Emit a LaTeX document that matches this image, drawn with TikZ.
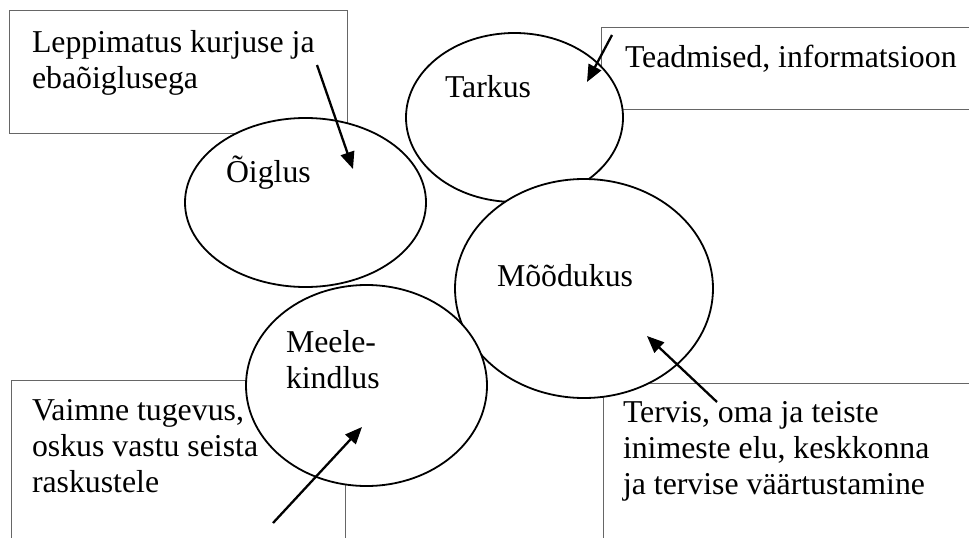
\documentclass[tikz,border=0pt]{standalone}
\usepackage{fontspec}
\setmainfont{Liberation Serif}
\usetikzlibrary{shapes.geometric,arrows.meta}
\tikzset{
  boxframe/.style={draw=black!60, line width=1pt, minimum width=#1, anchor=north west, inner sep=0pt, outer sep=0pt},
  oval/.style={ellipse, draw=black, fill=white, line width=1.8pt, inner sep=0pt, outer sep=0pt},
  lbl/.style={anchor=base west, inner sep=0pt, outer sep=0pt},
  arr/.style={line width=2.3pt, -{Triangle[length=17pt,width=14pt]}}
}
\newcommand{\txt}[1]{\parbox[t]{400pt}{\fontsize{31.8}{36}\selectfont #1}}
\begin{document}
\begin{tikzpicture}[x=1pt,y=-1pt]
\useasboundingbox (0,0) rectangle (969,538);
\clip (0,0) rectangle (969,538);
% boxes
\node[boxframe=338pt, minimum height=123pt] (b1) at (9,10) {};
\node[boxframe=374pt, minimum height=82pt] (b2) at (601,27) {};
\node[boxframe=334pt, minimum height=165pt] (b3) at (11,380) {};
\node[boxframe=372pt, minimum height=162pt] (b4) at (603,383) {};
% ellipses
\node[oval, minimum width=217pt, minimum height=169pt] (tarkus) at (514.5,117.5) {};
\node[oval, minimum width=241pt, minimum height=169pt] (oiglus) at (305.5,202.5) {};
\node[oval, minimum width=258pt, minimum height=219pt] (mood) at (584,288.5) {};
\node[oval, minimum width=241pt, minimum height=201pt] (meele) at (366.5,385.5) {};
% texts
\node[lbl] (t1) at (32,52) {\txt{Leppimatus kurjuse ja\\ebaõiglusega}};
\node[lbl] (t2) at (625,67) {\txt{Teadmised, informatsioon}};
\node[lbl] (t3) at (32,420) {\txt{Vaimne tugevus,\\oskus vastu seista\\raskustele}};
\node[lbl] (t4) at (623,422) {\txt{Tervis, oma ja teiste\\inimeste elu, keskkonna\\ja tervise väärtustamine}};
\node[lbl] (to) at (226,182) {\txt{Õiglus}};
\node[lbl] (tt) at (445,97) {\txt{Tarkus}};
\node[lbl] (tm) at (497,286) {\txt{Mõõdukus}};
\node[lbl] (tk) at (286,352) {\txt{Meele-\\kindlus}};
% arrows
\coordinate (a1s) at (317,65);  \coordinate (a1e) at (353,169);
\coordinate (a2s) at (612,35);  \coordinate (a2e) at (587,82);
\coordinate (a3s) at (273,523); \coordinate (a3e) at (362,427);
\coordinate (a4s) at (717,402); \coordinate (a4e) at (647,336);
\draw[arr] (a1s) -- (a1e);
\draw[arr] (a2s) -- (a2e);
\draw[arr] (a3s) -- (a3e);
\draw[arr] (a4s) -- (a4e);
\end{tikzpicture}
\end{document}
